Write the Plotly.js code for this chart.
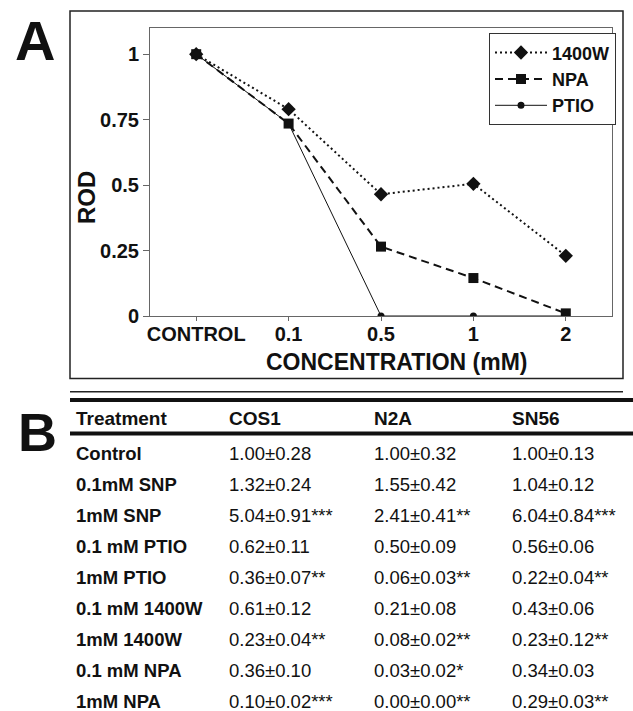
<!DOCTYPE html>
<html>
<head>
<meta charset="utf-8">
<script src="https://cdn.plot.ly/plotly-3.0.1.min.js"></script>
<style>
  html, body { margin: 0; padding: 0; background: #fff; }
  #chart { width: 633px; height: 711px; }
</style>
</head>
<body>
<div id="chart"></div>
<script>
// ---------- Data: panel A ----------
const categories = ['CONTROL', '0.1', '0.5', '1', '2'];
const rod1400W = [1.00, 0.79, 0.465, 0.505, 0.23];
const rodNPA   = [1.00, 0.735, 0.265, 0.145, 0.01];
const rodPTIO  = [1.00, 0.735, 0.0, 0.0, 0.0];
const yTickVals = [0, 0.25, 0.5, 0.75, 1];
const yTickText = ['0', '0.25', '0.5', '0.75', '1'];

// ---------- Data: panel B (table) ----------
const tableHeaders = ['Treatment', 'COS1', 'N2A', 'SN56'];
const treatments = ['Control', '0.1mM SNP', '1mM SNP', '0.1 mM PTIO', '1mM PTIO',
                    '0.1 mM 1400W', '1mM 1400W', '0.1 mM NPA', '1mM NPA'];
const cos1 = ['1.00±0.28', '1.32±0.24', '5.04±0.91***', '0.62±0.11', '0.36±0.07**',
              '0.61±0.12', '0.23±0.04**', '0.36±0.10', '0.10±0.02***'];
const n2a  = ['1.00±0.32', '1.55±0.42', '2.41±0.41**', '0.50±0.09', '0.06±0.03**',
              '0.21±0.08', '0.08±0.02**', '0.03±0.02*', '0.00±0.00**'];
const sn56 = ['1.00±0.13', '1.04±0.12', '6.04±0.84***', '0.56±0.06', '0.22±0.04**',
              '0.43±0.06', '0.23±0.12**', '0.34±0.03', '0.29±0.03**'];

// ---------- Layout geometry ----------
const W = 633, H = 711, L = 150, R = 21, T = 28, B = 395;
const PW = W - L - R, PH = H - T - B;
const px = x => (x - L) / PW;
const py = y => (H - B - y) / PH;
const FONT = '"Liberation Sans", Arial, Helvetica, sans-serif';
const INK = '#111';

const traces = [
  { x: categories, y: rod1400W, name: '1400W', type: 'scatter', mode: 'lines+markers',
    line: { color: INK, width: 2, dash: '2px,3px' },
    marker: { symbol: 'diamond', size: 11, color: INK } },
  { x: categories, y: rodNPA, name: 'NPA', type: 'scatter', mode: 'lines+markers',
    line: { color: INK, width: 2, dash: '8px,5px' },
    marker: { symbol: 'square', size: 10, color: INK } },
  { x: categories, y: rodPTIO, name: 'PTIO', type: 'scatter', mode: 'lines+markers',
    line: { color: INK, width: 1 },
    marker: { symbol: 'circle', size: 7, color: INK } }
];

const shapes = [
  { type: 'rect', xref: 'paper', yref: 'paper', x0: px(70), x1: px(623), y0: py(11), y1: py(378.5),
    line: { color: '#222', width: 1.5 }, fillcolor: 'rgba(0,0,0,0)' },
  { type: 'line', xref: 'paper', yref: 'paper', x0: px(70), x1: px(623), y0: py(391.7), y1: py(391.7),
    line: { color: '#222', width: 1.5 } },
  { type: 'line', xref: 'paper', yref: 'paper', x0: px(70), x1: px(640), y0: py(400), y1: py(400),
    line: { color: '#111', width: 4 } },
  { type: 'line', xref: 'paper', yref: 'paper', x0: px(70), x1: px(640), y0: py(433.5), y1: py(433.5),
    line: { color: '#111', width: 4 } }
];

const annotations = [
  { text: 'A', xref: 'paper', yref: 'paper', x: px(13), y: py(41), xanchor: 'left', yanchor: 'middle',
    showarrow: false, font: { family: FONT, size: 56, weight: 700, color: INK } },
  { text: 'B', xref: 'paper', yref: 'paper', x: px(16), y: py(432), xanchor: 'left', yanchor: 'middle',
    showarrow: false, font: { family: FONT, size: 54, weight: 700, color: INK } },
  { text: 'ROD', xref: 'paper', yref: 'paper', x: px(86), y: py(198), xanchor: 'center', yanchor: 'middle',
    textangle: -90, showarrow: false, font: { family: FONT, size: 24, weight: 700, color: INK } },
  { text: 'CONCENTRATION (mM)', xref: 'paper', yref: 'paper', x: px(397), y: py(362), xanchor: 'center',
    yanchor: 'middle', showarrow: false, font: { family: FONT, size: 23, weight: 700, color: INK } }
];

// table
const PADX = 3;
const colX = [77, 230, 375, 513];
tableHeaders.forEach((h, j) => {
  annotations.push({ text: h, xref: 'paper', yref: 'paper', x: px(colX[j] - PADX), y: py(418),
    xanchor: 'left', yanchor: 'middle', showarrow: false,
    font: { family: FONT, size: 19, weight: 700, color: INK } });
});
const rowY0 = 453, rowStep = 31.1;
treatments.forEach((t, i) => {
  const yy = py(rowY0 + i * rowStep);
  annotations.push({ text: t, xref: 'paper', yref: 'paper', x: px(colX[0] - PADX), y: yy,
    xanchor: 'left', yanchor: 'middle', showarrow: false,
    font: { family: FONT, size: 18.5, weight: 700, color: INK } });
  [cos1, n2a, sn56].forEach((col, j) => {
    annotations.push({ text: col[i], xref: 'paper', yref: 'paper', x: px(colX[j + 1] - PADX), y: yy,
      xanchor: 'left', yanchor: 'middle', showarrow: false,
      font: { family: FONT, size: 18.5, color: INK } });
  });
});

const layout = {
  width: W, height: H,
  margin: { l: L, r: R, t: T, b: B, pad: 0 },
  paper_bgcolor: '#fff', plot_bgcolor: '#fff',
  font: { family: FONT, color: INK },
  showlegend: true,
  legend: {
    x: px(489), y: py(33.3), xanchor: 'left', yanchor: 'top',
    bgcolor: '#fff', bordercolor: '#333', borderwidth: 1,
    font: { family: FONT, size: 18, weight: 700, color: INK },
    itemwidth: 52, tracegroupgap: 4
  },
  xaxis: {
    type: 'category', range: [-0.5, 4.5], fixedrange: true,
    showline: true, linecolor: '#666', linewidth: 1, mirror: true,
    ticks: 'outside', ticklen: 4, tickcolor: '#666',
    ticklabelstandoff: -4,
    showgrid: false, zeroline: false,
    tickfont: { family: FONT, size: 20, weight: 700, color: INK }
  },
  yaxis: {
    range: [0, 1.1], fixedrange: true,
    tickvals: yTickVals, ticktext: yTickText,
    showline: true, linecolor: '#666', linewidth: 1, mirror: true,
    ticks: 'outside', ticklen: 6, tickcolor: '#666',
    showgrid: false, zeroline: false,
    tickfont: { family: FONT, size: 20, weight: 700, color: INK }
  },
  shapes: shapes,
  annotations: annotations
};

Plotly.newPlot('chart', traces, layout, { staticPlot: true, displayModeBar: false });
</script>
</body>
</html>
